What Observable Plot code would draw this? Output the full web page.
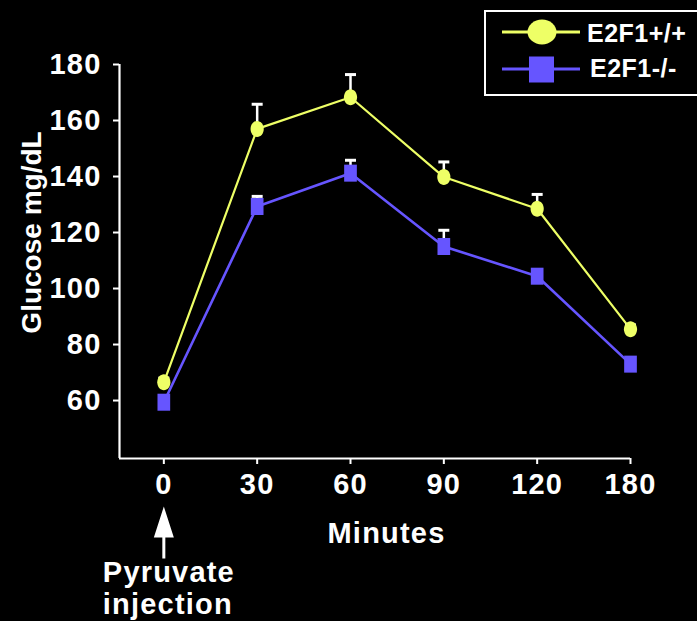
<!DOCTYPE html>
<html>
<head>
<meta charset="utf-8">
<script src="https://cdn.jsdelivr.net/npm/d3@7"></script>
<script src="https://cdn.jsdelivr.net/npm/@observablehq/plot@0.6"></script>
<style>
  html, body { margin: 0; padding: 0; background: #000; }
  #wrap { position: relative; width: 697px; height: 621px; overflow: hidden; background: #000;
          font-family: "Liberation Sans", Arial, Helvetica, sans-serif; font-weight: bold; }
  #legend { position: absolute; left: 484px; top: 10px; width: 230px; height: 82px;
            border: 2px solid #fff; background: #000; }
  #legend svg { display: block; }
</style>
</head>
<body>
<div id="wrap">
  <div id="chart"></div>
  <div id="legend"></div>
</div>
<script>
// ---- data ----
const minutes = ["0", "30", "60", "90", "120", "180"];
const seriesNames = ["E2F1+/+", "E2F1-/-"];
const wildType = [66.5, 157.0, 168.3, 139.8, 128.5, 85.5];
const wildTypeErr = [1.5, 8.8, 8.1, 5.4, 5.1, 1.5];
const knockout = [59.4, 129.3, 141.2, 115.0, 104.4, 73.0];
const knockoutErr = [2.0, 3.6, 4.6, 5.8, 2.0, 1.5];
const yTicks = [60, 80, 100, 120, 140, 160, 180];
const yLabel = "Glucose mg/dL";
const xLabel = "Minutes";
const note = "Pyruvate\ninjection";

const yellow = "#eeff66";
const purple = "#6655ff";
const font = '"Liberation Sans", Arial, Helvetica, sans-serif';

const idx = minutes.map((_, i) => i);
const rows = [];
idx.forEach(i => {
  rows.push({i, series: seriesNames[0], v: wildType[i], e: wildTypeErr[i]});
  rows.push({i, series: seriesNames[1], v: knockout[i], e: knockoutErr[i]});
});
const wt = rows.filter(d => d.series === seriesNames[0]);
const ko = rows.filter(d => d.series === seriesNames[1]);

// ---- custom symbols ----
function ellipseSymbol(rx, ry) {
  const k = 0.5523;
  return {draw(c) {
    c.moveTo(rx, 0);
    c.bezierCurveTo(rx, ry * k, rx * k, ry, 0, ry);
    c.bezierCurveTo(-rx * k, ry, -rx, ry * k, -rx, 0);
    c.bezierCurveTo(-rx, -ry * k, -rx * k, -ry, 0, -ry);
    c.bezierCurveTo(rx * k, -ry, rx, -ry * k, rx, 0);
    c.closePath();
  }};
}
function rectSymbol(w, h) {
  return {draw(c) { c.rect(-w / 2, -h / 2, w, h); }};
}
const arrowSymbol = {draw(c) {
  c.moveTo(0, 0);
  c.lineTo(10, 31);
  c.lineTo(1.5, 31);
  c.lineTo(1.5, 52);
  c.lineTo(-1.5, 52);
  c.lineTo(-1.5, 31);
  c.lineTo(-10, 31);
  c.closePath();
}};

const xDomain = [-0.475, minutes.length - 1];
const yDomain = [39.3, 180];

const chart = Plot.plot({
  width: 697,
  height: 621,
  marginLeft: 119,
  marginRight: 67,
  marginTop: 64,
  marginBottom: 163,
  style: {background: "#000", color: "#fff", fontFamily: font, fontWeight: "bold",
          overflow: "visible", letterSpacing: "1.2px"},
  x: {type: "linear", domain: xDomain},
  y: {domain: yDomain},
  marks: [
    Plot.ruleY([yDomain[0]], {stroke: "#fff", strokeWidth: 2.2}),
    Plot.ruleX([xDomain[0]], {stroke: "#fff", strokeWidth: 2.2}),
    Plot.axisX({ticks: idx, tickFormat: i => minutes[i], tickSize: 6, tickPadding: 9,
      fontSize: 29, stroke: "#fff", strokeWidth: 2, fill: "#fff", label: null}),
    Plot.axisY({ticks: yTicks, tickSize: 6, tickPadding: 12, fontSize: 29,
      stroke: "#fff", strokeWidth: 2, fill: "#fff", label: null}),
    Plot.line(wt, {x: "i", y: "v", stroke: yellow, strokeWidth: 2.2}),
    Plot.line(ko, {x: "i", y: "v", stroke: purple, strokeWidth: 2.6}),
    Plot.ruleX(rows, {x: "i", y1: "v", y2: d => d.v + d.e, stroke: "#fff", strokeWidth: 2.5}),
    Plot.dot(rows, {x: "i", y: d => d.v + d.e, symbol: rectSymbol(11, 3), fill: "#fff", r: 4}),
    Plot.dot(wt, {x: "i", y: "v", symbol: ellipseSymbol(6.6, 8), fill: yellow, r: 6}),
    Plot.dot(ko, {x: "i", y: "v", symbol: rectSymbol(12.7, 17), fill: purple, r: 6}),
    Plot.text([yLabel], {frameAnchor: "left", textAnchor: "middle", rotate: -90, lineAnchor: "bottom",
      dx: -79, dy: -29, fontSize: 28, fill: "#fff", fontWeight: "bold"}),
    Plot.text([xLabel], {frameAnchor: "bottom", textAnchor: "middle", lineAnchor: "bottom", dx: 11.5, dy: 84,
      fontSize: 29, fill: "#fff", fontWeight: "bold"}),
    Plot.dot([idx[0]], {x: d => d, frameAnchor: "bottom", dy: 48, symbol: arrowSymbol,
      fill: "#fff", r: 6}),
    Plot.text([note], {x: () => idx[0], frameAnchor: "bottom", textAnchor: "start",
      lineAnchor: "bottom", lineHeight: 1.07, dx: -61, dy: 155, fontSize: 29,
      fill: "#fff", fontWeight: "bold"})
  ]
});
document.getElementById("chart").appendChild(chart);
// the rotated y label is set without extra letter spacing
d3.select(chart).selectAll("text").filter(function() { return this.textContent === yLabel; })
  .style("letter-spacing", "0px");

// ---- legend ----
const lg = d3.select("#legend").append("svg").attr("width", 230).attr("height", 82);
const items = [
  {name: seriesNames[0], color: yellow, y: 20, kind: "ellipse", tx: 101, ty: 30},
  {name: seriesNames[1], color: purple, y: 57, kind: "rect", tx: 104, ty: 65}
];
items.forEach(it => {
  lg.append("line").attr("x1", 16).attr("x2", 94).attr("y1", it.y).attr("y2", it.y)
    .attr("stroke", it.color).attr("stroke-width", 2.8);
  if (it.kind === "ellipse") {
    lg.append("ellipse").attr("cx", 56).attr("cy", it.y).attr("rx", 14.5).attr("ry", 12.5)
      .attr("fill", it.color);
  } else {
    lg.append("rect").attr("x", 43).attr("y", it.y - 12.5).attr("width", 25).attr("height", 26)
      .attr("fill", it.color);
  }
  lg.append("text").attr("x", it.tx).attr("y", it.ty).text(it.name)
    .attr("fill", "#fff").attr("font-family", font).attr("font-weight", "bold")
    .attr("font-size", 25).attr("letter-spacing", "0.5px");
});
</script>
</body>
</html>
